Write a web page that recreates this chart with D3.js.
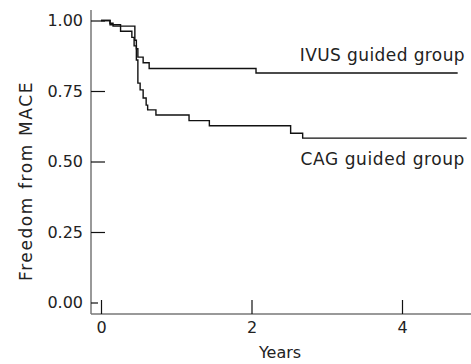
<!DOCTYPE html>
<html>
<head>
<meta charset="utf-8">
<script src="https://cdn.jsdelivr.net/npm/d3@7"></script>
<style>
  body { margin: 0; background: #fff; }
  text { font-family: "DejaVu Sans", sans-serif; fill: #222; }
</style>
</head>
<body>
<div id="chart"></div>
<script>
// Kaplan-Meier steps (years, freedom from MACE)
let ivusTime = [0, 0.12, 0.16, 0.45, 0.47, 0.49, 0.56, 0.64, 2.06, 4.74];
let ivusSurv = [1.0, 0.99, 0.98, 0.93, 0.90, 0.87, 0.85, 0.83, 0.814, 0.814];

let cagTime = [0, 0.12, 0.26, 0.41, 0.44, 0.47, 0.49, 0.52, 0.56, 0.60, 0.62, 0.73, 1.17, 1.44, 2.52, 2.68, 4.86];
let cagSurv = [1.0, 0.985, 0.962, 0.94, 0.91, 0.86, 0.778, 0.754, 0.725, 0.70, 0.683, 0.665, 0.645, 0.627, 0.60, 0.583, 0.583];

let yTicks = [0, 0.25, 0.5, 0.75, 1.0];
let xTicks = [0, 2, 4];
let seriesNames = ["IVUS guided group", "CAG guided group"];

let width = 471;
let height = 364;

let x = d3.scaleLinear().domain([0, 2]).range([101, 251.5]);
let y = d3.scaleLinear().domain([0, 1]).range([302.5, 20.5]);

let svg = d3.select("#chart").append("svg")
  .attr("width", width)
  .attr("height", height);

// axis lines
svg.append("line")
  .attr("x1", 91).attr("x2", 91).attr("y1", 10).attr("y2", 314)
  .attr("stroke", "#777").attr("stroke-width", 1.5);
svg.append("line")
  .attr("x1", 91).attr("x2", 471).attr("y1", 314).attr("y2", 314)
  .attr("stroke", "#777").attr("stroke-width", 1.5);

let yAxis = svg.append("g")
  .attr("transform", "translate(91,0)")
  .call(d3.axisLeft(y).tickValues(yTicks).tickFormat(d3.format(".2f")).tickSize(-14).tickPadding(8));
yAxis.select(".domain").remove();
yAxis.selectAll(".tick line").attr("stroke", "#111").attr("stroke-width", 1.2)
  .filter(function(d) { return d === 0; }).attr("x2", 7);
yAxis.selectAll(".tick text").style("font-size", "16px").style("font-family", "DejaVu Sans").attr("fill", "#222");

let xAxis = svg.append("g")
  .attr("transform", "translate(0,314)")
  .call(d3.axisBottom(x).tickValues(xTicks).tickFormat(d3.format("d")).tickSize(-14).tickPadding(8));
xAxis.select(".domain").remove();
xAxis.selectAll(".tick line").attr("stroke", "#111").attr("stroke-width", 1.2);
xAxis.selectAll(".tick text").style("font-size", "16px").style("font-family", "DejaVu Sans").attr("fill", "#222");

// axis titles
svg.append("text")
  .attr("x", 280).attr("y", 358)
  .attr("text-anchor", "middle")
  .style("font-size", "16px")
  .text("Years");

svg.append("text")
  .attr("transform", "translate(32,181) rotate(-90)")
  .attr("text-anchor", "middle")
  .style("font-size", "17px")
  .style("letter-spacing", "1.6px")
  .text("Freedom from MACE");

// curves
let line = d3.line()
  .x(function(d) { return x(d[0]); })
  .y(function(d) { return y(d[1]); })
  .curve(d3.curveStepAfter);

let ivus = d3.zip(ivusTime, ivusSurv);
let cag = d3.zip(cagTime, cagSurv);

[ivus, cag].forEach(function(s) {
  svg.append("path")
    .datum(s)
    .attr("d", line)
    .attr("fill", "none")
    .attr("stroke", "#111")
    .attr("stroke-width", 1.4);
});

// labels
svg.append("text")
  .attr("x", 465).attr("y", 61)
  .attr("text-anchor", "end")
  .style("font-size", "17px")
  .style("letter-spacing", "0.4px")
  .text(seriesNames[0]);

svg.append("text")
  .attr("x", 465).attr("y", 165)
  .attr("text-anchor", "end")
  .style("font-size", "17px")
  .style("letter-spacing", "0.6px")
  .text(seriesNames[1]);
</script>
</body>
</html>
